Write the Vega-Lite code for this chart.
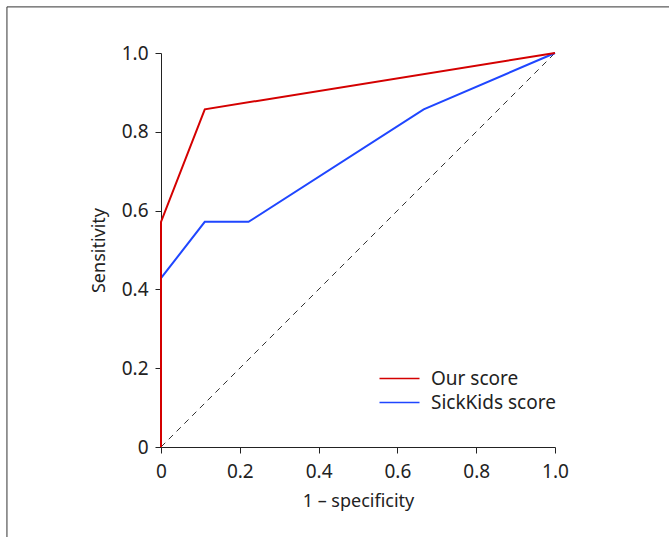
{
  "$schema": "https://vega.github.io/schema/vega-lite/v6.json",
  "autosize": "none",
  "width": 394,
  "height": 394,
  "padding": {"left": 161, "top": 53, "right": 114, "bottom": 90},
  "background": "white",
  "config": {
    "view": {"stroke": null},
    "font": "Noto Sans",
    "axis": {
      "grid": false,
      "domainColor": "#222",
      "tickColor": "#222",
      "tickSize": 6,
      "labelFlush": false,
      "labelFont": "Noto Sans",
      "labelFontSize": 19,
      "labelColor": "#222",
      "titleFont": "Noto Sans",
      "titleFontSize": 18,
      "titleFontWeight": "normal",
      "titleColor": "#222"
    }
  },
  "datasets": {
    "roc": [
      {"fpr": 0, "tpr": 0, "model": "SickKids score", "ord": 0},
      {"fpr": 0, "tpr": 0.4286, "model": "SickKids score", "ord": 1},
      {"fpr": 0.1111, "tpr": 0.5714, "model": "SickKids score", "ord": 2},
      {"fpr": 0.2222, "tpr": 0.5714, "model": "SickKids score", "ord": 3},
      {"fpr": 0.6667, "tpr": 0.8571, "model": "SickKids score", "ord": 4},
      {"fpr": 1, "tpr": 1, "model": "SickKids score", "ord": 5},
      {"fpr": 0, "tpr": 0, "model": "Our score", "ord": 0},
      {"fpr": 0, "tpr": 0.5714, "model": "Our score", "ord": 1},
      {"fpr": 0.1111, "tpr": 0.8571, "model": "Our score", "ord": 2},
      {"fpr": 1, "tpr": 1, "model": "Our score", "ord": 3}
    ],
    "diag": [
      {"fpr": 0, "tpr": 0},
      {"fpr": 1, "tpr": 1}
    ]
  },
  "layer": [
    {
      "data": {"values": [{}]},
      "mark": {"type": "rule", "color": "#333", "strokeWidth": 1, "clip": false},
      "encoding": {
        "x": {"datum": -0.391, "type": "quantitative"},
        "y": {"datum": 1.117, "type": "quantitative"},
        "y2": {"datum": -0.4}
      }
    },
    {
      "data": {"values": [{}]},
      "mark": {"type": "rule", "color": "#333", "strokeWidth": 1, "clip": false},
      "encoding": {
        "x": {"datum": -0.391, "type": "quantitative"},
        "x2": {"datum": 1.4},
        "y": {"datum": 1.117, "type": "quantitative"}
      }
    },
    {
      "data": {"name": "diag"},
      "mark": {"type": "line", "color": "#333", "strokeWidth": 1, "strokeDash": [6, 5]},
      "encoding": {
        "x": {"field": "fpr", "type": "quantitative"},
        "y": {"field": "tpr", "type": "quantitative"}
      }
    },
    {
      "data": {"name": "roc"},
      "mark": {"type": "line", "strokeWidth": 2},
      "encoding": {
        "x": {
          "field": "fpr", "type": "quantitative",
          "scale": {"domain": [0, 1], "nice": false, "zero": false},
          "axis": {"values": [0, 0.2, 0.4, 0.6, 0.8, 1], "labelExpr": "datum.value == 0 ? '0' : format(datum.value, '.1f')", "title": "1 – specificity", "labelPadding": 9, "titlePadding": 11}
        },
        "y": {
          "field": "tpr", "type": "quantitative",
          "scale": {"domain": [0, 1], "nice": false, "zero": false},
          "axis": {"values": [0, 0.2, 0.4, 0.6, 0.8, 1], "labelExpr": "datum.value == 0 ? '0' : format(datum.value, '.1f')", "title": "Sensitivity", "labelPadding": 7, "titlePadding": 13}
        },
        "order": {"field": "ord"},
        "color": {
          "field": "model", "type": "nominal",
          "scale": {"domain": ["Our score", "SickKids score"], "range": ["#d40000", "#1f46ff"]},
          "sort": ["Our score", "SickKids score"],
          "legend": {
            "title": null,
            "orient": "none",
            "legendX": 229,
            "legendY": 316,
            "symbolType": "M-4,0H4",
            "symbolSize": 100,
            "symbolStrokeWidth": 1.5,
            "labelFontSize": 19,
            "labelFont": "Noto Sans",
            "labelColor": "#222",
            "labelOffset": 22,
            "rowPadding": 4
          }
        }
      }
    }
  ]
}
